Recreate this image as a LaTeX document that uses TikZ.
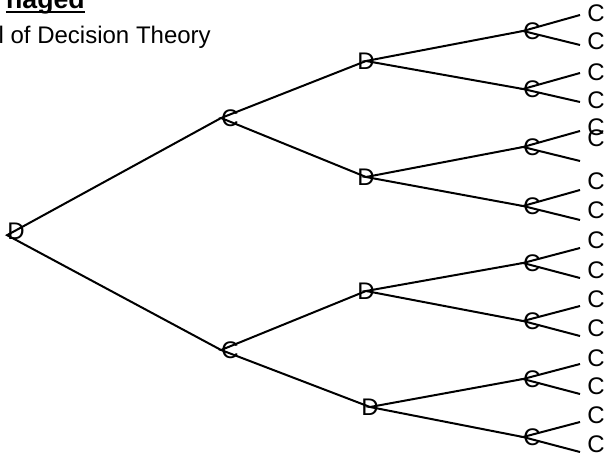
\documentclass[tikz,border=0pt]{standalone}
\usepackage{fontspec}
\setmainfont{Liberation Sans}
\usetikzlibrary{positioning}
\tikzset{
  every picture/.style={font=\fontsize{18}{21}\selectfont},
  branch/.style={line width=1.5pt},
  letter/.style={inner sep=0pt},
  outcome/.style={anchor=west,inner sep=0pt},
}

\begin{document}
\begin{tikzpicture}[x=0.75pt,y=-0.75pt]
  \useasboundingbox (0,0) rectangle (616,467);
  % heading, cut at the page edge
  \node[anchor=base east,inner sep=0pt,font=\fontsize{20}{24}\selectfont\bfseries] (head) at (85,9) {naged};
  \draw[line width=1.5pt] ([yshift=-2.2pt]head.base west) -- ([yshift=-2.2pt]head.base east);
  \node[anchor=base east,inner sep=0pt] (sub) at (211,44) {l of Decision Theory};
  % root and first chances
  \node[letter] (d0) at (16,231) {D};
  \node[letter] (ca) at (230,118) {C};
  \node[letter] (cb) at (230,350) {C};
  \draw[branch] (ca.west) -- (d0.205) -- (cb.west);
  % second decisions
  \node[letter] (d1) at (366,61) {D};
  \node[letter] (d2) at (366,177) {D};
  \node[letter] (d3) at (366,291) {D};
  \node[letter] (d4) at (370,407) {D};
  \draw[branch] (d1.center) -- (ca.west) -- (d2.center);
  \draw[branch] (d3.center) -- (cb.west) -- (d4.center);
  % last chances and their ends
  \foreach \c/\yc/\ya/\yb in {1/31/15/45,2/89/73/102,3/147/131/161,4/206/190/220,
                              5/263/248/278,6/321/306/336,7/379/364/394,8/437/422/452}{
    \node[letter] (c\c) at (532,\yc) {C};
    \coordinate (hi\c) at (580,\ya);
    \coordinate (lo\c) at (580,\yb);
    \draw[branch] (hi\c) -- (c\c.west) -- (lo\c);
  }
  \foreach \d/\a/\b in {1/1/2,2/3/4,3/5/6,4/7/8}
    \draw[branch] (c\a.west) -- (d\d.center) -- (c\b.west);
  % outcome labels
  \foreach \o/\yo in {1/13,2/41,3/72,4/100,5/127,6/138,7/181,8/210,
                      9/240,10/270,11/299,12/328,13/358,14/386,15/415,16/444}
    \node[outcome] (o\o) at (587,\yo) {C};
\end{tikzpicture}
\end{document}
